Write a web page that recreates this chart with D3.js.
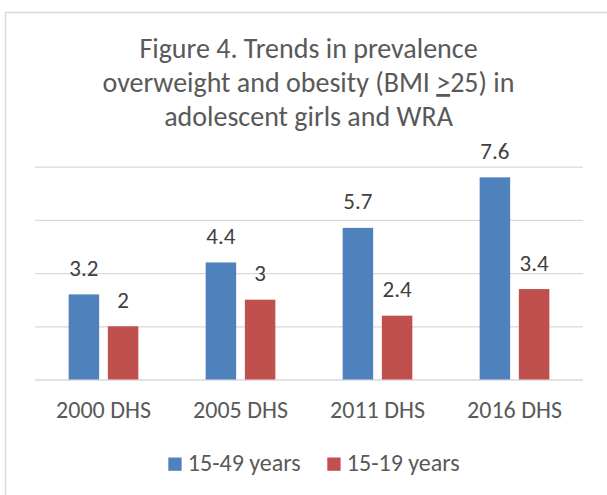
<!DOCTYPE html>
<html>
<head>
<meta charset="utf-8">
<script src="https://cdn.jsdelivr.net/npm/d3@7"></script>
<style>
  body { margin: 0; background: #fff; }
  text { font-family: Carlito, Calibri, Lato, sans-serif; }
  .grid line { stroke: #d9d9d9; stroke-width: 1.3px; }
  .grid path { display: none; }
</style>
</head>
<body>
<div id="chart"></div>
<script>
// data
var categories = ["2000 DHS", "2005 DHS", "2011 DHS", "2016 DHS"];
var seriesNames = ["15-49 years", "15-19 years"];
var women1549 = [3.2, 4.4, 5.7, 7.6];
var girls1519 = [2, 3, 2.4, 3.4];
var yTicks = [0, 2, 4, 6, 8];
// each title line is a list of [text, underlined] pieces
var titleLines = [
  [["Figure 4. Trends in prevalence", false]],
  [["overweight and obesity (BMI ", false], [">", true], ["25) in", false]],
  [["adolescent girls and WRA", false]]
];

var colors = ["#4f81bd", "#c0504d"];
var W = 607, H = 495;

var svg = d3.select("#chart").append("svg")
    .attr("width", W)
    .attr("height", H);

// chart frame
svg.append("rect")
    .attr("x", 5.5).attr("y", 12.5)
    .attr("width", W + 10).attr("height", H + 10)
    .attr("fill", "#fff")
    .attr("stroke", "#d9d9d9")
    .attr("stroke-width", 1.5);

// title
svg.append("g").selectAll("text")
    .data(titleLines).enter()
    .append("text")
    .attr("text-anchor", "middle")
    .attr("fill", "#595959")
    .style("font-size", "28px")
    .attr("x", 308.5)
    .attr("y", function(d, i) { return 58 + i * 34; })
    .selectAll("tspan")
    .data(function(d) { return d; }).enter()
    .append("tspan")
    .style("text-decoration", function(d) { return d[1] ? "underline" : null; })
    .text(function(d) { return d[0]; });

var x = d3.scaleBand().domain(categories).range([35, 583]);
var xs = d3.scaleBand().domain(seriesNames).range([33.65, 103.35]).paddingInner(0.222);
var y = d3.scaleLinear().domain([0, 8]).range([379.5, 166.7]);

// gridlines
svg.append("g")
    .attr("class", "grid")
    .attr("transform", "translate(35,0)")
    .call(d3.axisLeft(y).tickValues(yTicks).tickSize(-548).tickFormat(""));

var rows = categories.map(function(c, i) {
  return { cat: c, vals: [women1549[i], girls1519[i]] };
});

var groups = svg.selectAll(".grp")
    .data(rows).enter()
    .append("g")
    .attr("class", "grp")
    .attr("transform", function(d) { return "translate(" + x(d.cat) + ",0)"; });

groups.selectAll("rect")
    .data(function(d) { return d.vals.map(function(v, j) { return { s: seriesNames[j], v: v, j: j }; }); })
    .enter().append("rect")
    .attr("x", function(d) { return xs(d.s); })
    .attr("y", function(d) { return y(d.v); })
    .attr("width", xs.bandwidth())
    .attr("height", function(d) { return y(0) - y(d.v); })
    .attr("fill", function(d) { return colors[d.j]; });

groups.selectAll(".lbl")
    .data(function(d) { return d.vals.map(function(v, j) { return { s: seriesNames[j], v: v }; }); })
    .enter().append("text")
    .attr("class", "lbl")
    .attr("x", function(d) { return xs(d.s) + xs.bandwidth() / 2; })
    .attr("y", function(d) { return y(d.v) - 18.5; })
    .attr("text-anchor", "middle")
    .attr("fill", "#404040")
    .style("font-size", "23px")
    .text(function(d) { return d.v; });

// category labels
svg.append("g").selectAll("text")
    .data(categories).enter()
    .append("text")
    .attr("x", function(d) { return x(d) + x.bandwidth() / 2; })
    .attr("y", 417.5)
    .attr("text-anchor", "middle")
    .attr("fill", "#595959")
    .style("font-size", "24px")
    .text(function(d) { return d; });

// legend
var legendX = [168.3, 327.3];
var legend = svg.append("g").selectAll("g")
    .data(seriesNames).enter()
    .append("g")
    .attr("transform", function(d, i) { return "translate(" + legendX[i] + ",0)"; });
legend.append("rect")
    .attr("x", 0).attr("y", 457.5)
    .attr("width", 13.3).attr("height", 13.3)
    .attr("fill", function(d, i) { return colors[i]; });
legend.append("text")
    .attr("x", 19.5).attr("y", 470.7)
    .attr("fill", "#595959")
    .style("font-size", "24px")
    .text(function(d) { return d; });
</script>
</body>
</html>
